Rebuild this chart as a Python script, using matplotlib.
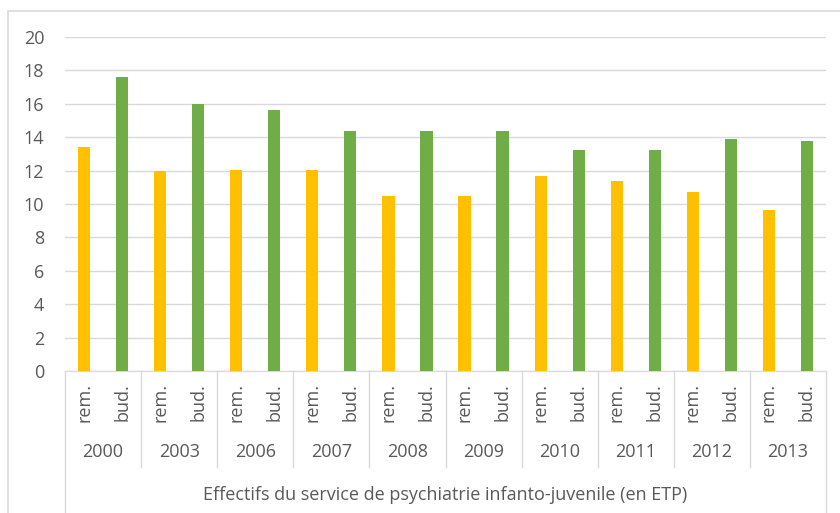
import numpy as np
import matplotlib.pyplot as plt
from matplotlib.lines import Line2D
from matplotlib.patches import Rectangle

years = ["2000", "2003", "2006", "2007", "2008", "2009", "2010", "2011", "2012", "2013"]
kinds = ["rem.", "bud."]
rem = [13.4, 11.95, 12.05, 12.05, 10.5, 10.5, 11.65, 11.35, 10.7, 9.65]
bud = [17.6, 16.0, 15.6, 14.4, 14.4, 14.4, 13.25, 13.25, 13.9, 13.8]
title = "Effectifs du service de psychiatrie infanto-juvenile (en ETP)"

yellow = "#FFC000"
green = "#70AD47"
grey_txt = "#595959"
grey_line = "#D9D9D9"

W, H = 840, 513
fig = plt.figure(figsize=(W / 100, H / 100), dpi=100)
plt.rcParams['font.family'] = ['Open Sans', 'DejaVu Sans']

# plot area in pixels
x0, x1, y0, y1 = 65, 826, 371, 37
ax = fig.add_axes([x0 / W, 1 - y0 / H, (x1 - x0) / W, (y0 - y1) / H])

n = len(years)
xr = np.arange(n) * 2
xb = xr + 1
ax.bar(xr, rem, width=0.32, color=yellow, zorder=3)
ax.bar(xb, bud, width=0.32, color=green, zorder=3)

ax.set_xlim(-0.5, 2 * n - 0.5)
ax.set_ylim(0, 20)
ax.set_yticks(range(0, 21, 2))
ax.set_xticks([])
ax.tick_params(axis='y', length=0, pad=15, labelsize=13, labelcolor=grey_txt)
ax.yaxis.grid(True, color=grey_line, lw=1, zorder=0)
for s in ["top", "right", "left"]:
    ax.spines[s].set_visible(False)
ax.spines["bottom"].set_color(grey_line)

tr = ax.get_xaxis_transform()


def yfrac(py):
    # pixel row -> axes fraction
    return (y0 - py) / (y0 - y1)


# category labels, two levels
for i in range(n):
    for j, k in enumerate(kinds):
        ax.text(2 * i + j, yfrac(402), k, transform=tr, rotation=90,
                ha="center", va="center", fontsize=13, color=grey_txt)
    ax.text(2 * i + 0.5, yfrac(452), years[i], transform=tr,
            ha="center", va="center", fontsize=13, color=grey_txt)
ax.text(n - 0.5, yfrac(495), title, transform=tr,
        ha="center", va="center", fontsize=13, color=grey_txt)

# separators between the year groups
for i in range(1, n):
    ax.add_line(Line2D([2 * i - 0.5] * 2, [0, yfrac(467)], transform=tr,
                       color=grey_line, lw=1, clip_on=False))
for xe in [-0.5, 2 * n - 0.5]:
    ax.add_line(Line2D([xe] * 2, [0, yfrac(515)], transform=tr,
                       color=grey_line, lw=1, clip_on=False))

# chart frame
fig.patches.append(Rectangle((8 / W, -0.1), 1.0, 1 - 11 / H + 0.1,
                             transform=fig.transFigure, fill=False,
                             edgecolor=grey_line, lw=1.2))

fig.savefig("out.png", dpi=100)
